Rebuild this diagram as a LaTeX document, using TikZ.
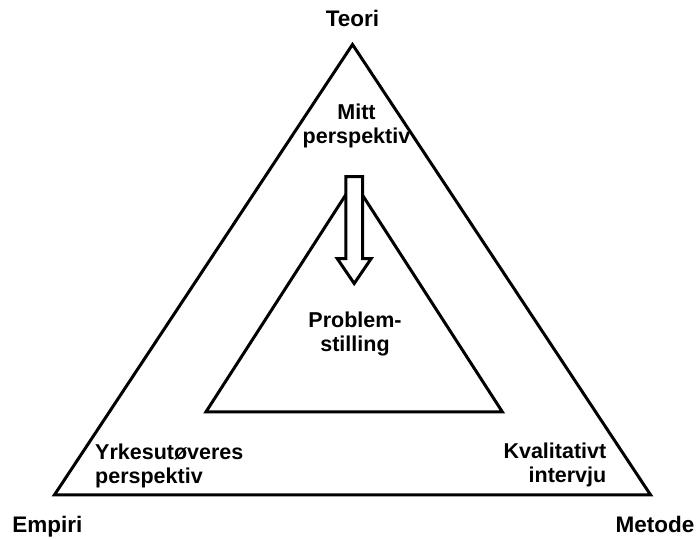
\documentclass[tikz,border=0pt]{standalone}
\usepackage{fontspec}
\setmainfont{Liberation Sans}
\begin{document}
\begin{tikzpicture}[x=1pt,y=-1pt,
  edge/.style={draw=black,line width=3pt,line join=miter},
  corner/.style={font=\fontsize{22.5}{26}\selectfont\bfseries,inner sep=0pt,anchor=base},
  lbl/.style={font=\fontsize{21.5}{24.2}\selectfont\bfseries,inner sep=0pt,align=center}]
  \useasboundingbox (0,0) rectangle (699,539);

  % outer triangle
  \coordinate (oT) at (352.5,44.5);
  \coordinate (oL) at (54.5,494.8);
  \coordinate (oR) at (650.5,494.8);
  \draw[edge] (oT) -- (oL) -- (oR) -- cycle;

  % inner triangle
  \coordinate (iT) at (354,182);
  \coordinate (iL) at (206,411.8);
  \coordinate (iR) at (502.3,411.8);
  \draw[edge] (iT) -- (iL) -- (iR) -- cycle;

  % hollow block arrow pointing down into the inner triangle
  \draw[edge,fill=white]
    (345.9,176.5) -- (362.5,176.5) -- (362.5,258.5) -- (371.2,258.5)
    -- (354.2,283.5) -- (337.2,258.5) -- (345.9,258.5) -- cycle;

  % corner labels
  \node[corner] (teori) at (352.5,26.7) {Teori};
  \node[corner] (empiri) at (47.3,532) {Empiri};
  \node[corner] (metode) at (655,532) {Metode};

  % labels inside the triangles (anchored on the baseline of the last line)
  \node[lbl,anchor=base] (mitt) at (356.5,143.3) {Mitt\\perspektiv};
  \node[lbl,anchor=base] (prob) at (355,351.7) {Problem-\\stilling};
  \node[lbl,align=left,anchor=base west] (yrke) at (95,483.3) {Yrkesutøveres\\perspektiv};
  \node[lbl,align=right,anchor=base east] (kval) at (606.5,482.7) {Kvalitativt\\intervju};
\end{tikzpicture}
\end{document}
